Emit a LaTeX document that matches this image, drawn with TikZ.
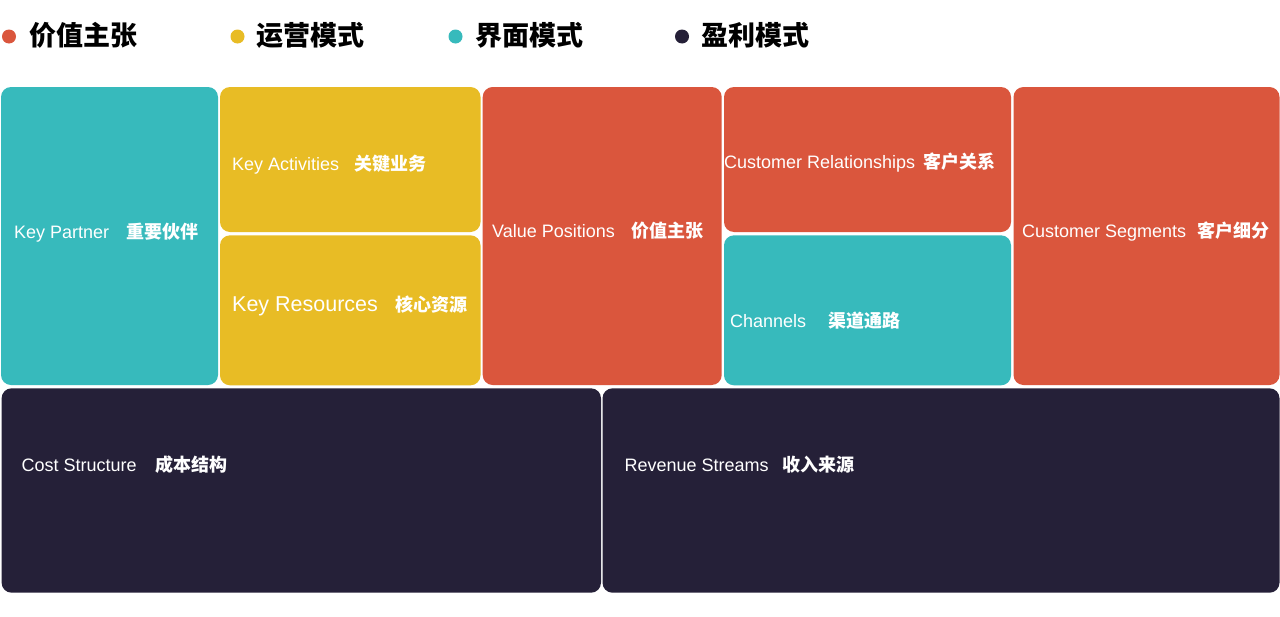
\documentclass[tikz,border=0pt]{standalone}
\usepackage{fontspec}
\setmainfont{Liberation Sans}
\newfontfamily\cjk{Noto Sans CJK SC}
\definecolor{cteal}{HTML}{37BABC}
\definecolor{cyellow}{HTML}{E8BC25}
\definecolor{cred}{HTML}{DA563D}
\definecolor{cdark}{HTML}{252038}
\begin{document}
\begin{tikzpicture}[x=1pt,y=-1pt,
  box/.style={rounded corners=10pt, inner sep=0pt, outer sep=0pt, anchor=north west},
  lat/.style={text=white, inner sep=0pt, anchor=base west, font=\fontsize{18}{20}\selectfont},
  zh/.style={text=white, inner sep=0pt, anchor=base west, font=\cjk\bfseries\fontsize{18}{20}\selectfont},
  dot/.style={circle, minimum size=14pt, inner sep=0pt},
  leg/.style={text=black, inner sep=0pt, anchor=west, font=\cjk\bfseries\fontsize{27}{30}\selectfont}]
\useasboundingbox[fill=white] (0,0) rectangle (1280,616);
% legend
\node[dot, fill=cred] (d1) at (9,36.5) {};
\node[leg] (l1) at (29,35) {价值主张};
\node[dot, fill=cyellow] (d2) at (237.5,36.5) {};
\node[leg] (l2) at (256,35) {运营模式};
\node[dot, fill=cteal] (d3) at (455.5,36.5) {};
\node[leg] (l3) at (475,35) {界面模式};
\node[dot, fill=cdark] (d4) at (682,36.5) {};
\node[leg] (l4) at (701,35) {盈利模式};
% boxes
\node[box, fill=cteal, minimum width=217pt, minimum height=298pt] (kp) at (1,87) {};
\node[box, fill=cyellow, minimum width=260.5pt, minimum height=145pt] (ka) at (220,87) {};
\node[box, fill=cyellow, minimum width=260.5pt, minimum height=150pt] (kr) at (220,235.3) {};
\node[box, fill=cred, minimum width=239pt, minimum height=298pt] (vp) at (482.7,87) {};
\node[box, fill=cred, minimum width=287pt, minimum height=145pt] (cr) at (724,87) {};
\node[box, fill=cteal, minimum width=287pt, minimum height=150pt] (ch) at (724,235.3) {};
\node[box, fill=cred, minimum width=266pt, minimum height=298pt] (cs) at (1013.5,87) {};
\node[box, fill=cdark, minimum width=599.4pt, minimum height=204.4pt] (cost) at (1.6,388.3) {};
\node[box, fill=cdark, minimum width=677pt, minimum height=204.4pt] (rev) at (602.5,388.3) {};
% labels
\node[lat] (kpL) at (14,238) {Key Partner};
\node[zh] (kpZ) at (126,238) {重要伙伴};
\node[lat] (kaL) at (232,170) {Key Activities};
\node[zh] (kaZ) at (354,170) {关键业务};
\node[lat, font=\fontsize{21.5}{24}\selectfont] (krL) at (232,311.7) {Key Resources};
\node[zh] (krZ) at (395,311.7) {核心资源};
\node[lat] (vpL) at (492,237.7) {Value Positions};
\node[zh] (vpZ) at (631,237.7) {价值主张};
\node[lat] (crL) at (724,168.3) {Customer Relationships};
\node[zh] (crZ) at (923,168.3) {客户关系};
\node[lat] (chL) at (730,327.7) {Channels};
\node[zh] (chZ) at (828,327.7) {渠道通路};
\node[lat] (csL) at (1022,237.7) {Customer Segments};
\node[zh] (csZ) at (1197,237.7) {客户细分};
\node[lat] (costL) at (21.5,471.7) {Cost Structure};
\node[zh] (costZ) at (155,471.7) {成本结构};
\node[lat] (revL) at (624.5,471.7) {Revenue Streams};
\node[zh] (revZ) at (782,471.7) {收入来源};
\end{tikzpicture}
\end{document}
